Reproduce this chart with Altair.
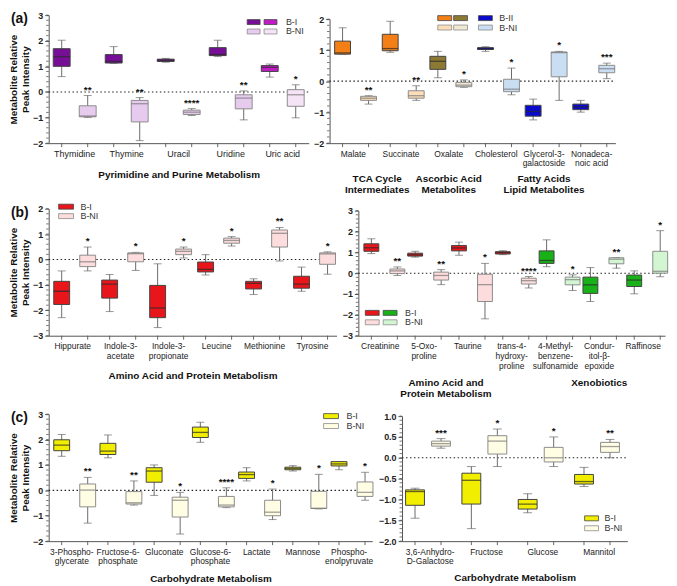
import altair as alt
import numpy as np
import pandas as pd

SERIES = ["B-I", "B-NI"]

# ---------- data: [min, q1, median, q3, max] ----------
A1_CATS = ["Thymidine", "Thymine", "Uracil", "Uridine", "Uric acid"]
A1_BI = [[0.60, 1.00, 1.38, 1.69, 2.02], [1.12, 1.13, 1.19, 1.46, 1.77], [1.16, 1.19, 1.24, 1.28, 1.31],
         [1.38, 1.42, 1.46, 1.73, 2.02], [0.58, 0.80, 0.96, 1.03, 1.09]]
A1_BNI = [[-1.00, -0.97, -0.94, -0.54, -0.14], [-1.90, -1.17, -0.46, -0.33, -0.22], [-0.92, -0.88, -0.79, -0.71, -0.65],
          [-1.09, -0.66, -0.24, -0.11, 0.04], [-1.01, -0.56, -0.11, 0.09, 0.28]]
A1_SIG = ["**", "**", "****", "**", "*"]

A2_CATS = ["Malate", "Succinate", "Oxalate", "Cholesterol", "Glycerol-3-\ngalactoside", "Nonadeca-\nnoic acid"]
A2_BI = [[0.87, 0.87, 0.91, 1.29, 1.72], [0.93, 0.98, 1.05, 1.51, 1.93], [0.11, 0.38, 0.64, 0.80, 0.96],
         [0.96, 1.02, 1.04, 1.08, 1.11], [-1.25, -1.13, -0.98, -0.78, -0.58], [-1.00, -0.92, -0.83, -0.74, -0.62]]
A2_BNI = [[-0.74, -0.62, -0.55, -0.49, -0.47], [-0.62, -0.55, -0.47, -0.31, -0.15], [-0.20, -0.18, -0.13, -0.04, 0.04],
          [-0.44, -0.34, -0.26, 0.06, 0.42], [-0.62, 0.14, 0.92, 0.94, 0.96], [0.08, 0.27, 0.40, 0.51, 0.58]]
A2_SIG = ["**", "**", "*", "*", "*", "***"]

B1_CATS = ["Hippurate", "Indole-3-\nacetate", "Indole-3-\npropionate", "Leucine", "Methionine", "Tyrosine"]
B1_BI = [[-2.29, -1.77, -1.25, -0.86, -0.45], [-2.05, -1.52, -0.97, -0.81, -0.59], [-2.68, -2.29, -1.91, -1.02, -0.17],
         [-0.61, -0.49, -0.39, -0.10, 0.19], [-1.38, -1.16, -0.94, -0.86, -0.76], [-1.25, -1.13, -0.97, -0.66, -0.30]]
B1_BNI = [[-0.45, -0.28, -0.09, 0.17, 0.49], [-0.43, -0.09, 0.23, 0.26, 0.28], [0.06, 0.19, 0.32, 0.41, 0.49],
          [0.53, 0.64, 0.75, 0.84, 0.90], [-0.06, 0.49, 1.03, 1.16, 1.26], [-0.58, -0.19, 0.22, 0.26, 0.30]]
B1_SIG = ["*", "*", "*", "*", "**", "*"]

B2_CATS = ["Creatinine", "5-Oxo-\nproline", "Taurine", "trans-4-\nhydroxy-\nproline", "4-Methyl-\nbenzene-\nsulfonamide",
           "Condur-\nitol-\u03b2-\nepoxide", "Raffinose"]
B2_BI = [[0.94, 1.05, 1.22, 1.41, 1.65], [0.77, 0.82, 0.88, 0.96, 1.05], [0.86, 1.07, 1.21, 1.33, 1.49],
         [0.89, 0.92, 0.99, 1.03, 1.08], [0.31, 0.47, 0.61, 1.07, 1.60], [-1.36, -0.97, -0.56, -0.19, 0.27],
         [-0.99, -0.64, -0.33, -0.09, 0.11]]
B2_BNI = [[-0.11, -0.02, 0.11, 0.20, 0.30], [-0.55, -0.33, -0.11, 0.05, 0.17], [-2.19, -1.36, -0.55, -0.05, 0.47],
          [-0.71, -0.52, -0.36, -0.24, -0.16], [-0.83, -0.56, -0.31, -0.19, -0.08], [0.24, 0.45, 0.67, 0.74, 0.75],
          [-0.17, 0.00, 0.09, 1.05, 2.04]]
B2_SIG = ["**", "**", "*", "****", "*", "**", "*"]

C1_CATS = ["3-Phospho-\nglycerate", "Fructose-6-\nphosphate", "Gluconate", "Glucose-6-\nphosphate", "Lactate",
           "Mannose", "Phospho-\nenolpyruvate"]
C1_BI = [[1.34, 1.56, 1.78, 1.99, 2.20], [1.28, 1.41, 1.54, 1.85, 2.18], [-0.20, 0.32, 0.76, 0.89, 1.00],
         [1.89, 2.08, 2.28, 2.49, 2.68], [0.37, 0.47, 0.62, 0.72, 0.89], [0.76, 0.81, 0.86, 0.91, 0.97],
         [0.81, 0.96, 1.04, 1.13, 1.13]]
C1_BNI = [[-1.29, -0.65, 0.01, 0.25, 0.51], [-0.58, -0.54, -0.49, -0.05, 0.37], [-1.72, -1.05, -0.39, -0.27, -0.08],
          [-0.68, -0.65, -0.58, -0.24, 0.10], [-1.15, -1.00, -0.86, -0.39, 0.05], [-0.73, -0.71, -0.71, -0.04, 0.63],
          [-0.39, -0.24, -0.08, 0.33, 0.71]]
C1_SIG = ["**", "**", "*", "****", "*", "*", "*"]

C2_CATS = ["3,6-Anhydro-\nD-Galactose", "Fructose", "Glucose", "Mannitol"]
C2_BI = [[-1.45, -1.14, -0.81, -0.77, -0.73], [-1.70, -1.11, -0.54, -0.37, -0.21], [-1.32, -1.23, -1.11, -1.00, -0.86],
         [-0.69, -0.63, -0.57, -0.40, -0.23]]
C2_BNI = [[0.23, 0.28, 0.34, 0.40, 0.46], [-0.21, 0.09, 0.40, 0.53, 0.69], [-0.21, -0.10, 0.00, 0.25, 0.50],
          [0.00, 0.13, 0.27, 0.37, 0.44]]
C2_SIG = ["***", "*", "*", "**"]

# ---------- colours ----------
PURPLE, MAGENTA, LPURPLE, LPINK2 = "#760E96", "#C21BC6", "#E7CBEF", "#F5E4F5"
ORANGE, OLIVE, BLUE = "#F57F17", "#8C7A34", "#0A0ACC"
LORANGE, LOLIVE, LBLUE = "#FBDDB8", "#EFE9D3", "#C9DDF3"
RED, PINK, GREEN, LGREEN = "#E8161B", "#FCDCDC", "#18B218", "#D2F5D2"
YELLOW, CREAM = "#F2EE00", "#FFFDE3"
DARK_STROKE, LIGHT_STROKE = "#444444", "#8c8c8c"

A1_FILL = ([PURPLE] * 4 + [MAGENTA], [LPURPLE] * 4 + [LPINK2])
A2_FILL = ([ORANGE, ORANGE, OLIVE, BLUE, BLUE, BLUE], [LORANGE, LORANGE, LOLIVE, LBLUE, LBLUE, LBLUE])
B1_FILL = ([RED] * 6, [PINK] * 6)
B2_FILL = ([RED] * 4 + [GREEN] * 3, [PINK] * 4 + [LGREEN] * 3)
C1_FILL = ([YELLOW] * 7, [CREAM] * 7)
C2_FILL = ([YELLOW] * 4, [CREAM] * 4)

ONE = pd.DataFrame({"k": [0]})
FONT = "Liberation Sans"


def box_df(cats, bi, bni, sig, fills):
    rows = []
    for i, c in enumerate(cats):
        for s, vals, f, st, mc, sg in (("B-I", bi[i], fills[0][i], DARK_STROKE, "#2a2a2a", ""),
                                       ("B-NI", bni[i], fills[1][i], LIGHT_STROKE, "#777777", sig[i])):
            lo, q1, md, q3, hi = vals
            rows.append(dict(group=c, series=s, lo=lo, q1=q1, med=md, q3=q3, hi=hi,
                             sig=sg, fill=f, stroke=st, medc=mc))
    return pd.DataFrame(rows)


def legend(xs, rows, ycs, sw, sh=5, tx=None):
    layers = []
    for (label, fills, stroke), yc in zip(rows, ycs):
        for x, f in zip(xs, fills):
            layers.append(alt.Chart(ONE).mark_rect(fill=f, stroke=stroke, strokeWidth=0.8).encode(
                x=alt.value(x), x2=alt.value(x + sw), y=alt.value(yc - sh / 2), y2=alt.value(yc + sh / 2)))
        layers.append(alt.Chart(ONE).mark_text(text=label, align="left", baseline="middle", fontSize=9,
                                               color="#333", font=FONT).encode(
            x=alt.value(tx), y=alt.value(yc)))
    return layers


def panel(df, cats, W, H, top, ydom, yvals, ystep, boxw, capw, ytitle, xtitle, lab_size=8.5,
          yfmt="d", title_pad=8, extra=(), plabel=None):
    xs = alt.Scale(domain=cats, paddingInner=0, paddingOuter=0)
    xa_kw = dict(ticks=False, labelAngle=0, labelExpr="split(datum.label, '\\n')", labelFontSize=lab_size,
                 labelLineHeight=10, labelPadding=6, labelColor="#222", domainColor="#555", labelOverlap=False,
                 labelFont=FONT, labelBaseline="top")
    if xtitle:
        xa = alt.Axis(title=xtitle, titleFontSize=10, titleFontWeight="bold", titlePadding=title_pad,
                      titleFont=FONT, titleColor="#111", **xa_kw)
    else:
        xa = alt.Axis(title=None, **xa_kw)
    ys = alt.Scale(domain=ydom, range=[H, top], nice=False, zero=False)
    ya_kw = dict(values=yvals, format=yfmt, tickSize=4, labelFontSize=9, labelFontWeight="bold",
                 labelColor="#222", labelPadding=2, domainColor="#555", tickColor="#555", grid=False,
                 labelFont=FONT)
    if ytitle:
        ya = alt.Axis(title=ytitle, titleFontSize=10, titleFontWeight="bold", titlePadding=2, titleFont=FONT,
                      titleColor="#111", **ya_kw)
    else:
        ya = alt.Axis(title=None, **ya_kw)

    def X():
        return alt.X("group:N", scale=xs, axis=xa, sort=cats)

    XO = alt.XOffset("series:N", sort=SERIES, scale=alt.Scale(paddingInner=0, paddingOuter=0))

    def Y(f):
        return alt.Y(f"{f}:Q", scale=ys, axis=ya)

    base = alt.Chart(df)
    minor_vals = [round(v, 3) for v in np.arange(ydom[0], ydom[1] + 1e-9, ystep)]
    minor = alt.Chart(pd.DataFrame({"v": minor_vals})).mark_rule(color="#555", strokeWidth=0.8).encode(
        y=Y("v"), x=alt.value(0), x2=alt.value(-2.5))
    xt = base.mark_rule(color="#555", strokeWidth=0.9).encode(x=X(), xOffset=XO, y=alt.value(H), y2=alt.value(H + 4))
    zero = alt.Chart(ONE).mark_rule(strokeDash=[1.5, 2.5], color="#222", strokeWidth=1.1).encode(
        y=alt.Y(datum=0, scale=ys, axis=ya), x=alt.value(0), x2=alt.value(W))
    whisk = base.mark_rule(color="#6b6b6b", strokeWidth=1).encode(x=X(), xOffset=XO, y=Y("lo"), y2="hi:Q")
    cap_lo = base.mark_tick(color="#6b6b6b", size=capw, thickness=1).encode(x=X(), xOffset=XO, y=Y("lo"))
    cap_hi = base.mark_tick(color="#6b6b6b", size=capw, thickness=1).encode(x=X(), xOffset=XO, y=Y("hi"))
    box = base.mark_bar(width=boxw, strokeWidth=1).encode(
        x=X(), xOffset=XO, y=Y("q1"), y2="q3:Q",
        fill=alt.Fill("fill:N", scale=None), stroke=alt.Stroke("stroke:N", scale=None))
    med = base.mark_tick(size=boxw, thickness=1.3).encode(
        x=X(), xOffset=XO, y=Y("med"), color=alt.Color("medc:N", scale=None))
    stars = base.mark_text(baseline="alphabetic", dy=-3, fontSize=10, fontWeight="bold", color="#111",
                           font=FONT).encode(x=X(), xOffset=XO, y=Y("hi"), text="sig:N")
    layers = [xt, minor, zero, whisk, cap_lo, cap_hi, box, med, stars]
    for e in extra:
        layers.append(e(X, xs, xa) if callable(e) else e)
    if plabel:
        layers.append(alt.Chart(ONE).mark_text(text=plabel, align="left", baseline="middle", fontSize=14,
                                               fontWeight="bold", color="#111", font=FONT).encode(
            x=alt.value(-38), y=alt.value(top + 4)))
    return alt.layer(*layers).properties(width=W, height=H)


def group_title(text, group, H, dy, band_pos=0.5):
    def make(X, xs, xa):
        d = pd.DataFrame({"group": [group], "t": [text]})
        return alt.Chart(d).mark_text(baseline="top", fontSize=10, fontWeight="bold", lineBreak="\n",
                                      lineHeight=11, color="#111", font=FONT).encode(
            x=alt.X("group:N", scale=xs, axis=xa, bandPosition=band_pos), y=alt.value(H + dy), text="t:N")
    return make


YT = ["Metabolite Relative", "Peak Intensity"]

# ---------- row a ----------
HA = 129
a_l = panel(box_df(A1_CATS, A1_BI, A1_BNI, A1_SIG, A1_FILL), A1_CATS, 262, HA, 0, [-2, 3],
            [-2, -1, 0, 1, 2, 3], 0.2, 17, 8, YT, "Pyrimidine and Purine Metabolism", lab_size=9, title_pad=12,
            extra=legend([200, 217], [("B-I", [PURPLE, MAGENTA], DARK_STROKE),
                                      ("B-NI", [LPURPLE, LPINK2], LIGHT_STROKE)], [7, 16.5], 13, tx=239),
            plabel="(a)")
a_r = panel(box_df(A2_CATS, A2_BI, A2_BNI, A2_SIG, A2_FILL), A2_CATS, 288, HA, 4, [-2, 2],
            [-2, -1, 0, 1, 2], 0.2, 16, 8, None, None,
            extra=legend([109, 125, 150], [("B-II", [ORANGE, OLIVE, BLUE], DARK_STROKE),
                                           ("B-NI", [LORANGE, LOLIVE, LBLUE], LIGHT_STROKE)], [3, 12.5], 14, tx=171)
            + [group_title("TCA Cycle\nIntermediates", "Succinate", HA, 31, 0.0),
               group_title("Ascorbic Acid\nMetabolites", "Oxalate", HA, 31),
               group_title("Fatty Acids\nLipid Metabolites", "Glycerol-3-\ngalactoside", HA, 31)])

# ---------- row b ----------
HB = 136
b_l = panel(box_df(B1_CATS, B1_BI, B1_BNI, B1_SIG, B1_FILL), B1_CATS, 290, HB, 8, [-3, 2],
            [-3, -2, -1, 0, 1, 2], 0.2, 16, 8, YT, "Amino Acid and Protein Metabolism", title_pad=11,
            extra=legend([10], [("B-I", [RED], DARK_STROKE), ("B-NI", [PINK], LIGHT_STROKE)], [6, 15.5], 15, tx=32),
            plabel="(b)")
b_r = panel(box_df(B2_CATS, B2_BI, B2_BNI, B2_SIG, B2_FILL), B2_CATS, 309, HB, 10, [-3, 3],
            [-3, -2, -1, 0, 1, 2, 3], 0.2, 15, 8, None, None,
            extra=legend([7, 25], [("B-I", [RED, GREEN], DARK_STROKE),
                                   ("B-NI", [PINK, LGREEN], LIGHT_STROKE)], [113, 122.5], 14, tx=47)
            + [group_title("Amino Acid and\nProtein Metabolism", "Taurine", HB, 43, 0.0),
               group_title("Xenobiotics", "Condur-\nitol-\u03b2-\nepoxide", HB, 43)])

# ---------- row c ----------
HC = 137
c_l = panel(box_df(C1_CATS, C1_BI, C1_BNI, C1_SIG, C1_FILL), C1_CATS, 326, HC, 9, [-2, 3],
            [-2, -1, 0, 1, 2, 3], 0.2, 16, 8, YT, "Carbohydrate Metabolism", title_pad=8,
            extra=legend([277], [("B-I", [YELLOW], DARK_STROKE), ("B-NI", [CREAM], LIGHT_STROKE)], [11, 21], 15,
                         tx=300),
            plabel="(c)")
c_r = panel(box_df(C2_CATS, C2_BI, C2_BNI, C2_SIG, C2_FILL), C2_CATS, 227, HC, 11, [-2, 1],
            [-2, -1.5, -1, -0.5, 0, 0.5, 1], 0.1, 19, 9, None, "Carbohydrate Metabolism", yfmt=".1f", title_pad=7,
            extra=legend([184], [("B-I", [YELLOW], DARK_STROKE), ("B-NI", [CREAM], LIGHT_STROKE)], [114, 124], 14,
                         tx=204))

row_a = alt.hconcat(a_l, a_r, spacing=21, bounds="flush")
row_b = alt.hconcat(b_l, b_r, spacing=22, bounds="flush")
row_c = alt.hconcat(c_l, c_r, spacing=30, bounds="flush")

chart = alt.vconcat(row_a, row_b, row_c, spacing=6).properties(
    padding={"left": 0, "top": 0, "right": 0, "bottom": 0}
).configure(font=FONT).configure_view(stroke=None)

chart.save("out.html", embed_options={"renderer": "svg", "actions": False})
